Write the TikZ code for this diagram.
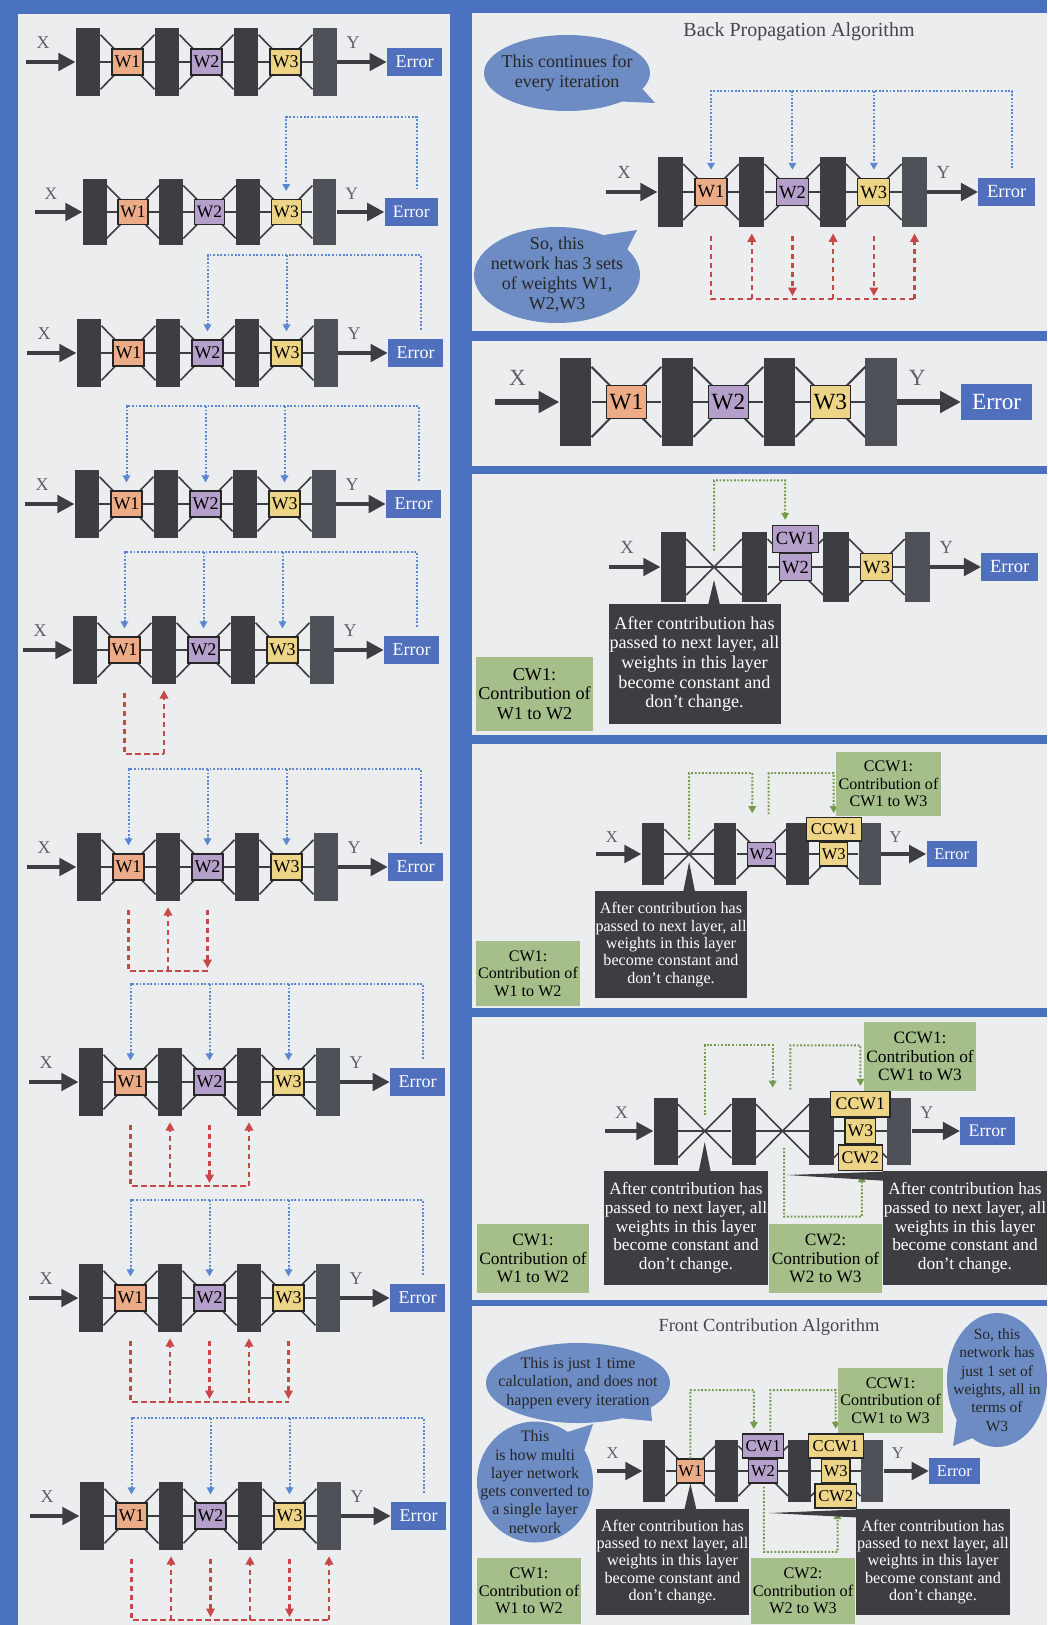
\documentclass[tikz,border=0pt]{standalone}
\usepackage{fontspec}
\setmainfont{Liberation Serif}
\usetikzlibrary{positioning,arrows.meta,calc,shapes.callouts}

\definecolor{bgblue}{RGB}{74,114,192}
\definecolor{panelc}{RGB}{236,237,239}
\definecolor{layerc}{RGB}{62,62,66}
\definecolor{lastc}{RGB}{78,81,87}
\definecolor{w1c}{RGB}{236,172,135}
\definecolor{w2c}{RGB}{180,160,202}
\definecolor{w3c}{RGB}{238,212,135}
\definecolor{errc}{RGB}{80,112,190}
\definecolor{bubc}{RGB}{108,140,195}
\definecolor{legc}{RGB}{166,190,138}
\definecolor{callc}{RGB}{62,62,66}
\definecolor{bpc}{RGB}{90,135,210}
\definecolor{rpc}{RGB}{200,72,72}
\definecolor{gpc}{RGB}{115,155,75}
\definecolor{titlec}{RGB}{70,70,75}
\definecolor{lblc}{RGB}{95,95,100}

% one network: four layers, wiring, X in and Y out to Error
\newcommand{\netbody}{%
  \node[lyr] (a) at (12,0) {};
  \node[lyr] (b) at (91,0) {};
  \node[lyr] (c) at (170,0) {};
  \node[lyr, fill=lastc] (d) at (249,0) {};
  \coordinate (g1) at (51.5,0);
  \coordinate (g2) at (130.5,0);
  \coordinate (g3) at (209.5,0);
  \coordinate (xin) at (-50,0);
  \coordinate (ft) at (0,-98);
  \coordinate (rb) at (0,104);
  \foreach \p/\q in {a/b, b/c, c/d}{
    \draw[wire] (\p) -- (\q);
    \draw[wire] ($(\p.north east)+(0,7)$) -- ($(\q.south west)+(0,-7)$);
    \draw[wire] ($(\p.south east)+(0,-7)$) -- ($(\q.north west)+(0,7)$);
  }
  \node[errbox] (err) at (338.5,0) {Error};
  \draw[flow] (xin) -- (a);
  \draw[flow] (d) -- (err);
  \node[axlbl] (xl) at (-33,-19) {X};
  \node[axlbl] (yl) at (277,-19) {Y};
}
% the three weight boxes
\newcommand{\allw}{%
  \node[wbox, fill=w1c] (w1) at (g1) {W1};
  \node[wbox, fill=w2c] (w2) at (g2) {W2};
  \node[wbox, fill=w3c] (w3) at (g3) {W3};
}
% blue error feedback
\newcommand{\backfrom}[1]{\draw[bp] ($(err.north)+(5.5,-9)$) |- (#1 |- ft) -- ($(#1.north)+(0,-8)$);}
\newcommand{\backto}[1]{\draw[bp] (#1 |- ft) -- ($(#1.north)+(0,-8)$);}
\newcommand{\backall}{\backfrom{w1}\backto{w2}\backto{w3}}
% red dependency path under the network
\newcommand{\redstart}[1]{\draw[rp] ($(w1.south)+(0,29)$) |- (#1 |- rb);}
\newcommand{\redup}[1]{\draw[rp, rtip] (#1 |- rb) -- ($(#1.south)+(0,6)$);}
\newcommand{\reddown}[1]{\draw[rp, rtip] ($(#1.south)+(0,29)$) -- ($(#1 |- rb)+(0,-3)$);}
\newcommand{\frozen}{After contribution has\\passed to next layer, all\\weights in this layer\\become constant and\\don't change.}

\begin{document}
\begin{tikzpicture}[x=1pt, y=-1pt,
  lyr/.style={fill=layerc, minimum width=24.5pt, minimum height=68pt, inner sep=0pt},
  wire/.style={draw=layerc, line width=1.6pt},
  flow/.style={draw=layerc, line width=4.8pt, -{Triangle[length=0pt 3.6, width=0pt 3.6]}},
  wbox/.style={draw=black!85, line width=1.2pt, minimum width=31pt, minimum height=26pt, inner sep=0pt, font=\fontsize{18}{20}\selectfont},
  errbox/.style={fill=errc, text=white, minimum width=55pt, minimum height=28pt, inner sep=0pt, font=\fontsize{18}{20}\selectfont},
  axlbl/.style={text=lblc, inner sep=0pt, font=\fontsize{18}{20}\selectfont},
  bp/.style={draw=bpc, line width=2pt, dash pattern=on 1.8pt off 1.8pt, -{Triangle[length=7pt, width=7.5pt]}},
  rp/.style={draw=rpc, line width=2.5pt, dash pattern=on 5.5pt off 3.5pt},
  rtip/.style={-{Triangle[length=8.5pt, width=8.5pt]}},
  gp/.style={draw=gpc, line width=2pt, dash pattern=on 1.8pt off 1.8pt, -{Triangle[length=7pt, width=7.5pt]}},
  note/.style={fill=callc, text=white, align=center, minimum width=167pt, minimum height=116pt, inner sep=0pt, font=\fontsize{17.6}{19}\selectfont},
  legbox/.style={fill=legc, align=center, minimum width=114pt, minimum height=71pt, inner sep=0pt, font=\fontsize{17.6}{19}\selectfont},
  bubble/.style={ellipse callout, fill=bubc, inner sep=0pt, callout pointer arc=24},
  bubtext/.style={align=center, text=black!85, font=\fontsize{18}{20}\selectfont},
  heading/.style={text=titlec, font=\fontsize{20}{22}\selectfont}
]
\useasboundingbox (0,0) rectangle (1047,1625);
\fill[bgblue] (0,0) rectangle (1047,1625);
% panels
\fill[panelc] (18,14) rectangle (450,1625);
\fill[panelc] (472,13) rectangle (1047,331);
\fill[panelc] (472,341) rectangle (1047,466);
\fill[panelc] (472,474) rectangle (1047,735);
\fill[panelc] (472,744) rectangle (1047,1008);
\fill[panelc] (472,1017) rectangle (1047,1300);
\fill[panelc] (472,1306) rectangle (1047,1625);

% Left column: one back propagation pass, step by step
\begin{scope}[shift={(76,62)}, transform shape, name prefix=L1-]
  \netbody \allw
\end{scope}
\begin{scope}[shift={(83,212)}, scale=.97, transform shape, name prefix=L2-]
  \netbody \allw
  \backfrom{w3}
\end{scope}
\begin{scope}[shift={(77,353)}, transform shape, name prefix=L3-]
  \netbody \allw
  \backfrom{w2} \backto{w3}
\end{scope}
\begin{scope}[shift={(75,504)}, transform shape, name prefix=L4-]
  \netbody \allw \backall
\end{scope}
\begin{scope}[shift={(73,650)}, transform shape, name prefix=L5-]
  \netbody \allw \backall
  \redstart{b} \redup{b}
\end{scope}
\begin{scope}[shift={(77,867)}, transform shape, name prefix=L6-]
  \netbody \allw \backall
  \redstart{w2} \redup{b} \reddown{w2}
\end{scope}
\begin{scope}[shift={(79,1082)}, transform shape, name prefix=L7-]
  \netbody \allw \backall
  \redstart{c} \redup{b} \redup{c} \reddown{w2}
\end{scope}
\begin{scope}[shift={(79,1298)}, transform shape, name prefix=L8-]
  \netbody \allw \backall
  \redstart{w3} \redup{b} \redup{c} \reddown{w2} \reddown{w3}
\end{scope}
\begin{scope}[shift={(80,1516)}, transform shape, name prefix=L9-]
  \netbody \allw \backall
  \redstart{d} \redup{b} \redup{c} \redup{d} \reddown{w2} \reddown{w3}
\end{scope}

% Back propagation summary
\node[heading] (bptitle) at (799,32) {Back Propagation Algorithm};
\node[bubble, minimum width=166pt, minimum height=76pt, callout absolute pointer={(655,103)}] (bub1) at (567,73) {};
\node[bubtext] (bub1t) at (bub1.center) {This continues for\\every iteration};
\node[bubble, minimum width=166pt, minimum height=96pt, callout absolute pointer={(637,230)}] (bub2) at (557,275) {};
\node[bubtext] (bub2t) at (bub2.center) {So, this\\network has 3 sets\\of weights W1,\\W2,W3};
\begin{scope}[shift={(658,192)}, scale=1.03, transform shape, name prefix=P1-]
  \netbody \allw \backall
  \redstart{d} \redup{b} \redup{c} \redup{d} \reddown{w2} \reddown{w3}
\end{scope}

% Big plain network
\begin{scope}[shift={(560,402)}, scale=1.29, transform shape, name prefix=P2-,
  flow/.append style={line width=5.8pt}, wire/.append style={line width=2pt}]
  \netbody \allw
\end{scope}

% Contribution of W1 folded into W2
\begin{scope}[shift={(661,567)}, scale=1.03, transform shape, name prefix=P3-]
  \netbody
  \coordinate (gt) at (0,-84);
  \node[wbox, fill=w2c] (w2) at (g2) {W2};
  \node[wbox, fill=w2c, minimum width=45pt, anchor=south] (cw1) at (w2.north) {CW1};
  \node[wbox, fill=w3c] (w3) at (g3) {W3};
  \draw[gp] ($(g1)+(0,-16)$) |- ($(g2 |- gt)+(-10,0)$) -- ($(cw1.north)+(-10,-5)$);
\end{scope}
\node[note, scale=1.03] (n3) at (694.5,664) {\frozen};
\fill[callc] ($(n3.north -| P3-g1)+(-6,1)$) -- ($(P3-g1)+(0,13)$) -- ($(n3.north -| P3-g1)+(6,1)$) -- cycle;
\node[legbox, scale=1.03] (lg3) at (534.5,694) {CW1:\\Contribution of\\W1 to W2};

% CW1 folded into W3
\begin{scope}[shift={(642,854)}, scale=.915, transform shape, name prefix=P4-]
  \netbody
  \coordinate (gt) at (0,-88.5);
  \node[wbox, fill=w2c] (w2) at (g2) {W2};
  \node[wbox, fill=w3c] (w3) at (g3) {W3};
  \node[wbox, fill=w3c, minimum width=60pt, anchor=south] (ccw1) at (w3.north) {CCW1};
  \draw[gp] ($(g1)+(0,-16)$) |- ($(g2 |- gt)+(-10,0)$) -- ($(w2.north)+(-10,-31)$);
  \draw[gp] ($(w2.north)+(8,-30)$) |- (g3 |- gt) -- ($(ccw1.north)+(0,-4)$);
\end{scope}
\node[note, scale=.915] (n4) at (671,944.5) {\frozen};
\fill[callc] ($(n4.north -| P4-g1)+(-6,1)$) -- ($(P4-g1)+(0,8)$) -- ($(n4.north -| P4-g1)+(6,1)$) -- cycle;
\node[legbox, scale=.915] (lg4a) at (528,973.5) {CW1:\\Contribution of\\W1 to W2};
\node[legbox, scale=.915] (lg4b) at (888.5,784) {CCW1:\\Contribution of\\CW1 to W3};

% W2 folded into W3
\begin{scope}[shift={(654,1131)}, scale=.985, transform shape, name prefix=P5-]
  \netbody
  \coordinate (gt) at (0,-87);
  \coordinate (gb) at (0,87);
  \node[wbox, fill=w3c] (w3) at (g3) {W3};
  \node[wbox, fill=w3c, minimum width=60pt, anchor=south] (ccw1) at (w3.north) {CCW1};
  \node[wbox, fill=w3c, minimum width=45pt, anchor=north] (cw2) at (w3.south) {CW2};
  \draw[gp] ($(g1)+(0,-16)$) |- ($(g2 |- gt)+(-10,0)$) -- ($(g2)+(-10,-44)$);
  \draw[gp] ($(g2)+(8,-42)$) |- (g3 |- gt) -- ($(ccw1.north)+(0,-5)$);
  \draw[gp] ($(g2)+(1.5,17)$) |- ($(g3 |- gb)+(1.5,0)$) -- ($(cw2.south)+(1.5,4)$);
\end{scope}
\node[note, scale=.985] (n5a) at (686,1228) {\frozen};
\fill[callc] ($(n5a.north -| P5-g1)+(-6,1)$) -- ($(P5-g1)+(0,11)$) -- ($(n5a.north -| P5-g1)+(6,1)$) -- cycle;
\node[note, scale=.985] (n5b) at (965,1228) {\frozen};
\fill[callc] ($(n5b.north west)+(1,1)$) -- ($(P5-g2)+(4,44)$) -- ($(n5b.north west)+(1,10)$) -- cycle;
\node[legbox, scale=.985] (lg5a) at (533,1258.5) {CW1:\\Contribution of\\W1 to W2};
\node[legbox, scale=.985] (lg5b) at (825.5,1258.5) {CW2:\\Contribution of\\W2 to W3};
\node[legbox, scale=.985] (lg5c) at (920,1056.5) {CCW1:\\Contribution of\\CW1 to W3};

% Front contribution summary
\node[heading, font=\fontsize{18.5}{20}\selectfont] (fctitle) at (769,1327) {Front Contribution Algorithm};
\node[bubble, minimum width=184pt, minimum height=80pt, callout absolute pointer={(652,1421)}] (bub3) at (578,1383) {};
\node[bubtext, font=\fontsize{16}{18.3}\selectfont] (bub3t) at (bub3.center) {This is just 1 time\\calculation, and does not\\happen every iteration};
\node[bubble, minimum width=116pt, minimum height=121pt, callout absolute pointer={(593,1424)}] (bub4) at (535,1482) {};
\node[bubtext, font=\fontsize{16}{18.3}\selectfont] (bub4t) at (bub4.center) {This\\is how multi\\layer network\\gets converted to\\a single layer\\network};
\node[bubble, minimum width=100pt, minimum height=134pt, callout absolute pointer={(953,1446)}] (bub5) at (997,1380) {};
\node[bubtext, font=\fontsize{15.5}{18.3}\selectfont] (bub5t) at (bub5.center) {So, this\\network has\\just 1 set of\\weights, all in\\terms of\\W3};
\begin{scope}[shift={(643,1471)}, scale=.92, transform shape, name prefix=P6-]
  \netbody
  \coordinate (gt) at (0,-88);
  \coordinate (gb) at (0,88);
  \node[wbox, fill=w1c] (w1) at (g1) {W1};
  \node[wbox, fill=w2c] (w2) at (g2) {W2};
  \node[wbox, fill=w2c, minimum width=45pt, anchor=south] (cw1) at (w2.north) {CW1};
  \node[wbox, fill=w3c] (w3) at (g3) {W3};
  \node[wbox, fill=w3c, minimum width=60pt, anchor=south] (ccw1) at (w3.north) {CCW1};
  \node[wbox, fill=w3c, minimum width=45pt, anchor=north] (cw2) at (w3.south) {CW2};
  \draw[gp] (w1.north) |- ($(g2 |- gt)+(-10,0)$) -- ($(cw1.north)+(-10,-5)$);
  \draw[gp] ($(cw1.north)+(8,-3)$) |- (g3 |- gt) -- ($(ccw1.north)+(0,-5)$);
  \draw[gp] ($(g2)+(1,17)$) |- ($(g3 |- gb)+(2,0)$) -- ($(cw2.south)+(2,4)$);
\end{scope}
\node[note, scale=.92] (n6a) at (672.5,1562) {\frozen};
\fill[callc] ($(n6a.north -| P6-w1)+(-6,1)$) -- (P6-w1.south) -- ($(n6a.north -| P6-w1)+(6,1)$) -- cycle;
\node[note, scale=.92] (n6b) at (933,1562) {\frozen};
\fill[callc] ($(n6b.north west)+(1,1)$) -- ($(P6-g2)+(6,42)$) -- ($(n6b.north west)+(1,9)$) -- cycle;
\node[legbox, scale=.92] (lg6a) at (529,1591) {CW1:\\Contribution of\\W1 to W2};
\node[legbox, scale=.92] (lg6b) at (803,1591) {CW2:\\Contribution of\\W2 to W3};
\node[legbox, scale=.92] (lg6c) at (890.5,1400.5) {CCW1:\\Contribution of\\CW1 to W3};
\end{tikzpicture}
\end{document}
